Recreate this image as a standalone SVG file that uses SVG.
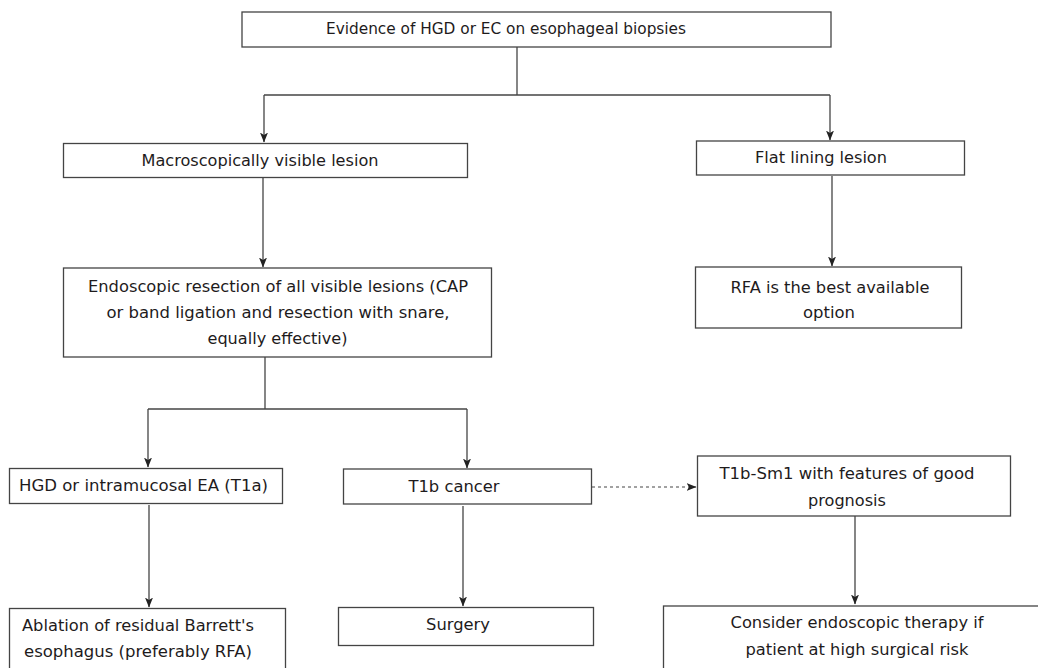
<svg xmlns="http://www.w3.org/2000/svg" width="1038" height="668" viewBox="0 0 1038 668">
<defs>
<marker id="arr" viewBox="0 0 10 8" refX="9.5" refY="4" markerWidth="10" markerHeight="8" markerUnits="userSpaceOnUse" orient="auto">
<path d="M0,0 L10,4 L0,8 L2.5,4 z" fill="#222"/>
</marker>
<style>
.box{fill:#fff;stroke:#444;stroke-width:1.3}
.t{font-family:"DejaVu Sans",Verdana,sans-serif;font-size:16px;fill:#1e1b1c;text-anchor:middle}
.c{fill:none;stroke:#444;stroke-width:1.3}
.d{fill:none;stroke:#444;stroke-width:1.2;stroke-dasharray:3 3}
</style>
</defs>
<rect width="1038" height="668" fill="#fff"/>
<g id="connectors">
<path class="c" d="M517,47 V95"/>
<path class="c" d="M264,95 H830"/>
<path class="c" d="M264,95 V142" marker-end="url(#arr)"/>
<path class="c" d="M830,95 V140" marker-end="url(#arr)"/>
<path class="c" d="M263,178 V267" marker-end="url(#arr)"/>
<path class="c" d="M832,176 V266" marker-end="url(#arr)"/>
<path class="c" d="M265,357 V409"/>
<path class="c" d="M148,409 H467"/>
<path class="c" d="M148,409 V467" marker-end="url(#arr)"/>
<path class="c" d="M467,409 V468" marker-end="url(#arr)"/>
<path class="d" d="M592,487 H696" marker-end="url(#arr)"/>
<path class="c" d="M149,505 V607" marker-end="url(#arr)"/>
<path class="c" d="M463,506 V606" marker-end="url(#arr)"/>
<path class="c" d="M855,516 V604" marker-end="url(#arr)"/>
</g>
<g id="n-top">
<rect class="box" x="242" y="12" width="589" height="35"/>
<text class="t" x="506" y="34" textLength="360" lengthAdjust="spacingAndGlyphs">Evidence of HGD or EC on esophageal biopsies</text>
</g>
<g id="n-macro">
<rect class="box" x="63.5" y="143.5" width="404" height="34"/>
<text class="t" x="260" y="166" textLength="237" lengthAdjust="spacingAndGlyphs">Macroscopically visible lesion</text>
</g>
<g id="n-flat">
<rect class="box" x="696.5" y="141" width="268" height="34"/>
<text class="t" x="821" y="163" textLength="132" lengthAdjust="spacingAndGlyphs">Flat lining lesion</text>
</g>
<g id="n-endo">
<rect class="box" x="63.5" y="268" width="428" height="89"/>
<text class="t" x="278" y="292" textLength="380" lengthAdjust="spacingAndGlyphs">Endoscopic resection of all visible lesions (CAP</text>
<text class="t" x="278" y="318" textLength="343" lengthAdjust="spacingAndGlyphs">or band ligation and resection with snare,</text>
<text class="t" x="277.5" y="344" textLength="140" lengthAdjust="spacingAndGlyphs">equally effective)</text>
</g>
<g id="n-rfa">
<rect class="box" x="695.5" y="267" width="266" height="61"/>
<text class="t" x="830" y="293" textLength="199" lengthAdjust="spacingAndGlyphs">RFA is the best available</text>
<text class="t" x="829" y="318" textLength="52" lengthAdjust="spacingAndGlyphs">option</text>
</g>
<g id="n-hgd">
<rect class="box" x="9.5" y="468.5" width="273" height="35"/>
<text class="t" x="143.5" y="491" textLength="249" lengthAdjust="spacingAndGlyphs">HGD or intramucosal EA (T1a)</text>
</g>
<g id="n-t1b">
<rect class="box" x="343.5" y="469" width="248" height="35"/>
<text class="t" x="454" y="492" textLength="91" lengthAdjust="spacingAndGlyphs">T1b cancer</text>
</g>
<g id="n-sm1">
<rect class="box" x="697.5" y="456" width="313" height="60"/>
<text class="t" x="847" y="479" textLength="255" lengthAdjust="spacingAndGlyphs">T1b-Sm1 with features of good</text>
<text class="t" x="847" y="506" textLength="78" lengthAdjust="spacingAndGlyphs">prognosis</text>
</g>
<g id="n-ablation">
<rect class="box" x="9.5" y="608.5" width="276" height="70"/>
<text class="t" x="138" y="631" textLength="232" lengthAdjust="spacingAndGlyphs">Ablation of residual Barrett's</text>
<text class="t" x="138" y="657" textLength="228" lengthAdjust="spacingAndGlyphs">esophagus (preferably RFA)</text>
</g>
<g id="n-surgery">
<rect class="box" x="338.5" y="607.5" width="255" height="38"/>
<text class="t" x="458" y="630" textLength="64" lengthAdjust="spacingAndGlyphs">Surgery</text>
</g>
<g id="n-consider">
<rect class="box" x="663.5" y="606" width="400" height="80"/>
<text class="t" x="857" y="628" textLength="253" lengthAdjust="spacingAndGlyphs">Consider endoscopic therapy if</text>
<text class="t" x="857" y="655" textLength="223" lengthAdjust="spacingAndGlyphs">patient at high surgical risk</text>
</g>
</svg>
